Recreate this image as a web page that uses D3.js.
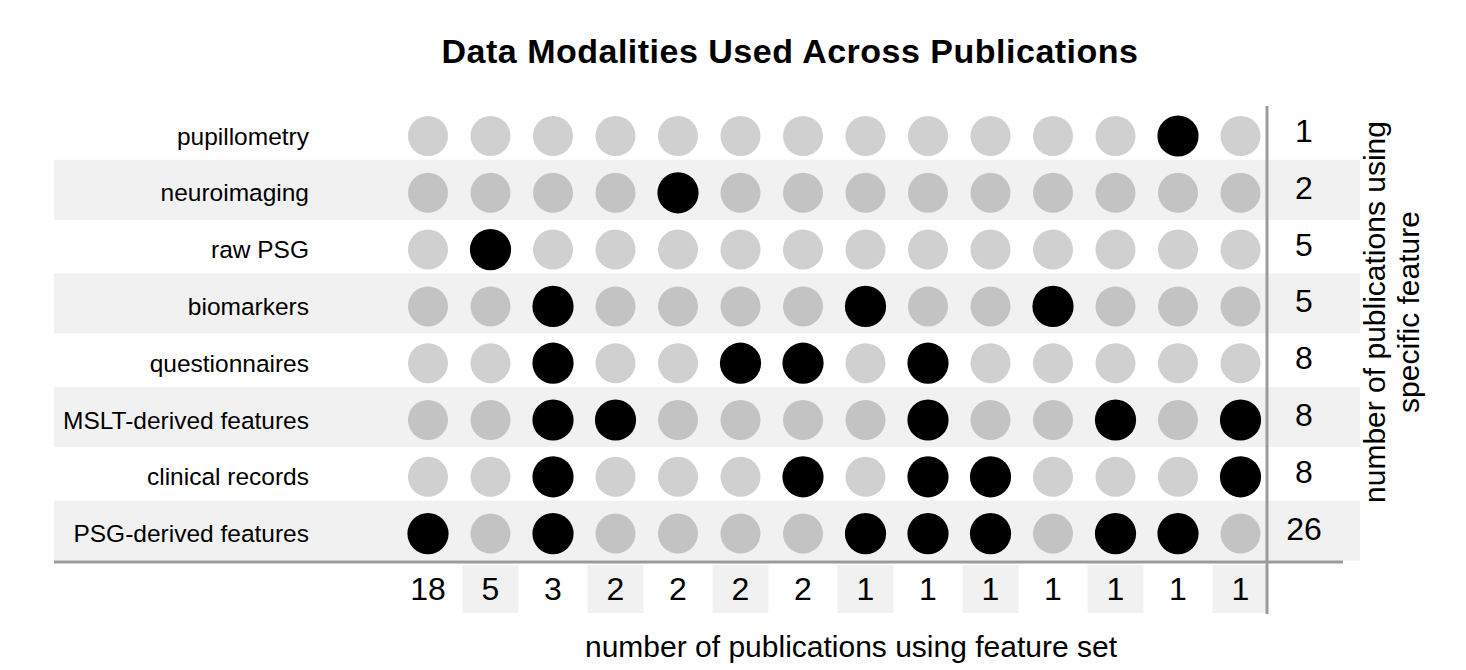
<!DOCTYPE html>
<html>
<head>
<meta charset="utf-8">
<script src="https://cdn.jsdelivr.net/npm/d3@7"></script>
<style>
  html, body { margin: 0; padding: 0; background: #fff; }
  svg { display: block; font-family: "Liberation Sans", Arial, Helvetica, sans-serif; }
</style>
</head>
<body>
<svg class="js-render-chart" width="1466" height="670"></svg>
<script>
"use strict";

//data

const features = [
  "pupillometry",
  "neuroimaging",
  "raw PSG",
  "biomarkers",
  "questionnaires",
  "MSLT-derived features",
  "clinical records",
  "PSG-derived features"
];

const featureTotals = [1, 2, 5, 5, 8, 8, 8, 26];

const setSizes = [18, 5, 3, 2, 2, 2, 2, 1, 1, 1, 1, 1, 1, 1];

const setMembers = [
  ["PSG-derived features"],
  ["raw PSG"],
  ["biomarkers", "questionnaires", "MSLT-derived features", "clinical records", "PSG-derived features"],
  ["MSLT-derived features"],
  ["neuroimaging"],
  ["questionnaires"],
  ["questionnaires", "clinical records"],
  ["biomarkers", "PSG-derived features"],
  ["questionnaires", "MSLT-derived features", "clinical records", "PSG-derived features"],
  ["clinical records", "PSG-derived features"],
  ["biomarkers"],
  ["MSLT-derived features", "PSG-derived features"],
  ["pupillometry", "PSG-derived features"],
  ["MSLT-derived features", "clinical records"]
];

//colors

const bandColor = "#f1f1f1";
const lineColor = "#9b9b9b";
const dotOn = "#000";
const dotOff = (i) => i % 2 ? "#c3c3c3" : "#d0d0d0";

//render chart

const renderChart = () => {

  const svg = d3.select(".js-render-chart");

  //scales

  const x = d3.scalePoint()
    .domain(d3.range(setSizes.length))
    .range([428, 1240.5]);

  const y = d3.scalePoint()
    .domain(features)
    .range([136, 533.6]);

  //row bands

  svg.append("g")
    .selectAll("rect")
    .data(features.filter((f, i) => i % 2))
    .enter()
    .append("rect")
    .attr("x", 54)
    .attr("width", 1306)
    .attr("y", (d) => y(d) - 33)
    .attr("height", 60)
    .attr("fill", bandColor);

  //column boxes

  svg.append("g")
    .selectAll("rect")
    .data(setSizes.map((d, i) => i).filter((i) => i % 2))
    .enter()
    .append("rect")
    .attr("x", (d) => x(d) - 28)
    .attr("width", 56)
    .attr("y", 565)
    .attr("height", 48)
    .attr("fill", bandColor);

  //dots

  const cells = [];

  setMembers.forEach((members, col) => {
    features.forEach((f, row) => {
      cells.push({ col, row, f, on: members.includes(f) });
    });
  });

  svg.append("g")
    .selectAll("circle")
    .data(cells)
    .enter()
    .append("circle")
    .attr("cx", (d) => x(d.col))
    .attr("cy", (d) => y(d.f))
    .attr("r", (d) => d.on ? 20.6 : 20)
    .attr("fill", (d) => d.on ? dotOn : dotOff(d.row));

  //lines

  svg.append("line")
    .attr("x1", 54)
    .attr("x2", 1343)
    .attr("y1", 562)
    .attr("y2", 562)
    .attr("stroke", lineColor)
    .attr("stroke-width", 3);

  svg.append("line")
    .attr("x1", 1267)
    .attr("x2", 1267)
    .attr("y1", 106)
    .attr("y2", 614)
    .attr("stroke", lineColor)
    .attr("stroke-width", 3);

  //row labels

  svg.append("g")
    .selectAll("text")
    .data(features)
    .enter()
    .append("text")
    .attr("x", 309)
    .attr("y", (d) => y(d) + 8.5)
    .attr("text-anchor", "end")
    .attr("font-size", 24.5)
    .text((d) => d);

  //row totals

  svg.append("g")
    .selectAll("text")
    .data(featureTotals)
    .enter()
    .append("text")
    .attr("x", 1304)
    .attr("y", (d, i) => y(features[i]) + 6)
    .attr("text-anchor", "middle")
    .attr("font-size", 32)
    .text((d) => d);

  //column totals

  svg.append("g")
    .selectAll("text")
    .data(setSizes)
    .enter()
    .append("text")
    .attr("x", (d, i) => x(i))
    .attr("y", 600)
    .attr("text-anchor", "middle")
    .attr("font-size", 32)
    .text((d) => d);

  //titles

  svg.append("text")
    .attr("x", 790)
    .attr("y", 63)
    .attr("text-anchor", "middle")
    .attr("font-size", 34)
    .attr("font-weight", "bold")
    .attr("letter-spacing", 0.5)
    .text("Data Modalities Used Across Publications");

  svg.append("text")
    .attr("x", 851)
    .attr("y", 657)
    .attr("text-anchor", "middle")
    .attr("font-size", 30)
    .text("number of publications using feature set");

  const side = svg.append("text")
    .attr("transform", "translate(1385, 312) rotate(-90)")
    .attr("text-anchor", "middle")
    .attr("font-size", 30);

  side.append("tspan").attr("x", 0).attr("y", 0).text("number of publications using");
  side.append("tspan").attr("x", 0).attr("y", 34).text("specific feature");

};

renderChart();
</script>
</body>
</html>
